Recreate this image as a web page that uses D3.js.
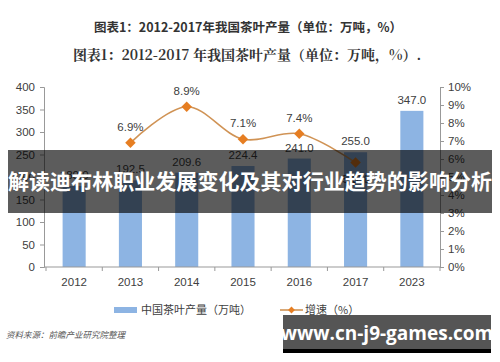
<!DOCTYPE html>
<html>
<head>
<meta charset="utf-8">
<script src="https://cdn.jsdelivr.net/npm/d3@7"></script>
<style>
  body { margin: 0; background: #fff; }
  svg { display: block; }
</style>
</head>
<body>
<svg id="svg" width="500" height="362"></svg>
<script>
// chart data
const years = ['2012', '2013', '2014', '2015', '2016', '2017', '2023'];
const output = [180.0, 192.5, 209.6, 224.4, 241.0, 255.0, 347.0];
const growthYears = ['2013', '2014', '2015', '2016', '2017'];
const growth = [6.9, 8.9, 7.1, 7.4, 5.8];
const leftTicks = [0, 50, 100, 150, 200, 250, 300, 350, 400];
const rightTicks = [0, 1, 2, 3, 4, 5, 6, 7, 8, 9, 10];

const title1 = '图表1：2012-2017年我国茶叶产量（单位：万吨，%）';
const title2 = '图表1：2012-2017 年我国茶叶产量（单位：万吨，%）.';
const legendBar = '中国茶叶产量（万吨）';
const legendLine = '增速（%）';
const source = '资料来源：前瞻产业研究院整理';
const banner = '解读迪布林职业发展变化及其对行业趋势的影响分析';
const site = 'www.cn-j9-games.com';

const svg = d3.select('#svg');
const margin = { top: 87, left: 44, right: 60, bottom: 95 };
const width = 500 - margin.left - margin.right;
const height = 362 - margin.top - margin.bottom;
const textColor = '#404040';
const font = '"Liberation Sans", Arial, sans-serif';

// titles
svg.append('text')
  .attr('x', 248).attr('y', 32)
  .attr('text-anchor', 'middle')
  .attr('font-family', '"Noto Sans CJK SC", sans-serif')
  .attr('font-weight', 'bold')
  .attr('font-size', 12.5)
  .attr('fill', '#333')
  .text(title1);

svg.append('text')
  .attr('x', 247).attr('y', 60)
  .attr('text-anchor', 'middle')
  .attr('font-family', '"Noto Serif CJK SC", "Noto Sans CJK SC", serif')
  .attr('font-weight', 'bold')
  .attr('font-size', 14)
  .attr('fill', '#333')
  .text(title2);

const g = svg.append('g')
  .attr('transform', 'translate(' + margin.left + ',' + margin.top + ')');

const x = d3.scaleBand().domain(years).range([2, width]).paddingInner(0.59).paddingOuter(0.295);
const xb = d3.scaleBand().domain(years).range([2, width]);
const y = d3.scaleLinear().domain([0, 400]).range([height, 0]);
const y2 = d3.scaleLinear().domain([0, 10]).range([height, 0]);

// bars
g.selectAll('.bar')
  .data(output)
  .join('rect')
  .attr('class', 'bar')
  .attr('x', (d, i) => x(years[i]))
  .attr('y', d => y(d))
  .attr('width', x.bandwidth())
  .attr('height', d => height - y(d))
  .attr('fill', '#8db4e3');

g.selectAll('.barlabel')
  .data(output)
  .join('text')
  .attr('class', 'barlabel')
  .attr('x', (d, i) => x(years[i]) + x.bandwidth() / 2)
  .attr('y', d => y(d) - 7)
  .attr('text-anchor', 'middle')
  .attr('font-family', font)
  .attr('font-size', 11.5)
  .attr('fill', textColor)
  .text(d => d.toFixed(1));

// left axis
const yAxis = g.append('g')
  .call(d3.axisLeft(y).tickValues(leftTicks).tickSize(4).tickPadding(5));
yAxis.selectAll('text').attr('font-family', font).attr('font-size', 11.5).attr('fill', textColor);
yAxis.selectAll('line, path').attr('stroke', '#999');

// right axis
const y2Axis = g.append('g')
  .attr('transform', 'translate(' + width + ',0)')
  .call(d3.axisRight(y2).tickValues(rightTicks).tickSize(4).tickPadding(4).tickFormat(d => d + '%'));
y2Axis.selectAll('text').attr('font-family', font).attr('font-size', 11.5).attr('fill', textColor);
y2Axis.selectAll('line, path').attr('stroke', '#999');

// bottom axis
const xAxis = g.append('g')
  .attr('transform', 'translate(0,' + height + ')');
xAxis.append('line')
  .attr('x1', 0).attr('x2', width)
  .attr('stroke', '#999');
xAxis.selectAll('.tick')
  .data(years)
  .join('line')
  .attr('x1', d => xb(d)).attr('x2', d => xb(d))
  .attr('y1', 0).attr('y2', 4)
  .attr('stroke', '#999');
xAxis.append('line')
  .attr('x1', width).attr('x2', width)
  .attr('y1', 0).attr('y2', 4)
  .attr('stroke', '#999');
xAxis.selectAll('.xlabel')
  .data(years)
  .join('text')
  .attr('x', d => xb(d) + xb.bandwidth() / 2)
  .attr('y', 19)
  .attr('text-anchor', 'middle')
  .attr('font-family', font)
  .attr('font-size', 11.5)
  .attr('fill', textColor)
  .text(d => d);

// growth line
const pts = growth.map((d, i) => [xb(growthYears[i]) + xb.bandwidth() / 2, y2(d)]);
const line = d3.line().curve(d3.curveCatmullRom.alpha(0.5));
g.append('path')
  .attr('d', line(pts))
  .attr('fill', 'none')
  .attr('stroke', '#d09355')
  .attr('stroke-width', 1.6);

const diamond = d3.symbol().type(d3.symbolDiamond2).size(70);
g.selectAll('.marker')
  .data(pts)
  .join('path')
  .attr('transform', d => 'translate(' + d[0] + ',' + d[1] + ')')
  .attr('d', diamond)
  .attr('fill', '#e67e22');

// last label sits under its marker
g.selectAll('.glabel')
  .data(growth)
  .join('text')
  .attr('x', (d, i) => pts[i][0])
  .attr('y', (d, i) => i === growth.length - 1 ? pts[i][1] + 20 : pts[i][1] - 12)
  .attr('text-anchor', 'middle')
  .attr('font-family', font)
  .attr('font-size', 11.5)
  .attr('fill', textColor)
  .text(d => d.toFixed(1) + '%');

// legend
const lg = svg.append('g');
lg.append('rect')
  .attr('x', 114).attr('y', 307).attr('width', 23).attr('height', 6)
  .attr('fill', '#8db4e3');
lg.append('text')
  .attr('x', 141).attr('y', 314)
  .attr('font-family', '"Noto Sans CJK SC", sans-serif')
  .attr('font-size', 11)
  .attr('fill', textColor)
  .text(legendBar);
lg.append('line')
  .attr('x1', 280).attr('x2', 303).attr('y1', 310).attr('y2', 310)
  .attr('stroke', '#d09355').attr('stroke-width', 1.6);
lg.append('path')
  .attr('transform', 'translate(291.5,310)')
  .attr('d', d3.symbol().type(d3.symbolDiamond2).size(30))
  .attr('fill', '#e67e22');
lg.append('text')
  .attr('x', 305).attr('y', 314)
  .attr('font-family', '"Noto Sans CJK SC", sans-serif')
  .attr('font-size', 11)
  .attr('fill', textColor)
  .text(legendLine);

// source
svg.append('text')
  .attr('x', 6).attr('y', 338)
  .attr('font-family', '"Noto Sans CJK SC", sans-serif')
  .attr('font-size', 8.5)
  .attr('font-style', 'italic')
  .attr('fill', '#555')
  .text(source);

// overlay banner
svg.append('rect')
  .attr('x', 8).attr('y', 150).attr('width', 484).attr('height', 63)
  .attr('fill', '#000').attr('fill-opacity', 0.64);
svg.append('text')
  .attr('x', 250).attr('y', 189)
  .attr('text-anchor', 'middle')
  .attr('font-family', '"Noto Sans CJK SC", sans-serif')
  .attr('font-weight', 'bold')
  .attr('font-size', 21)
  .attr('textLength', 484)
  .attr('fill', '#fff')
  .text(banner);

// site box
svg.append('rect')
  .attr('x', 283).attr('y', 315).attr('width', 208).attr('height', 34)
  .attr('fill', '#555');
svg.append('rect')
  .attr('x', 283).attr('y', 349).attr('width', 208).attr('height', 4)
  .attr('fill', '#000');
svg.append('text')
  .attr('x', 387).attr('y', 340)
  .attr('text-anchor', 'middle')
  .attr('font-family', '"Open Sans", "DejaVu Sans", sans-serif')
  .attr('font-weight', 'bold')
  .attr('font-size', 19)
  .attr('fill', '#fff')
  .text(site);
</script>
</body>
</html>
